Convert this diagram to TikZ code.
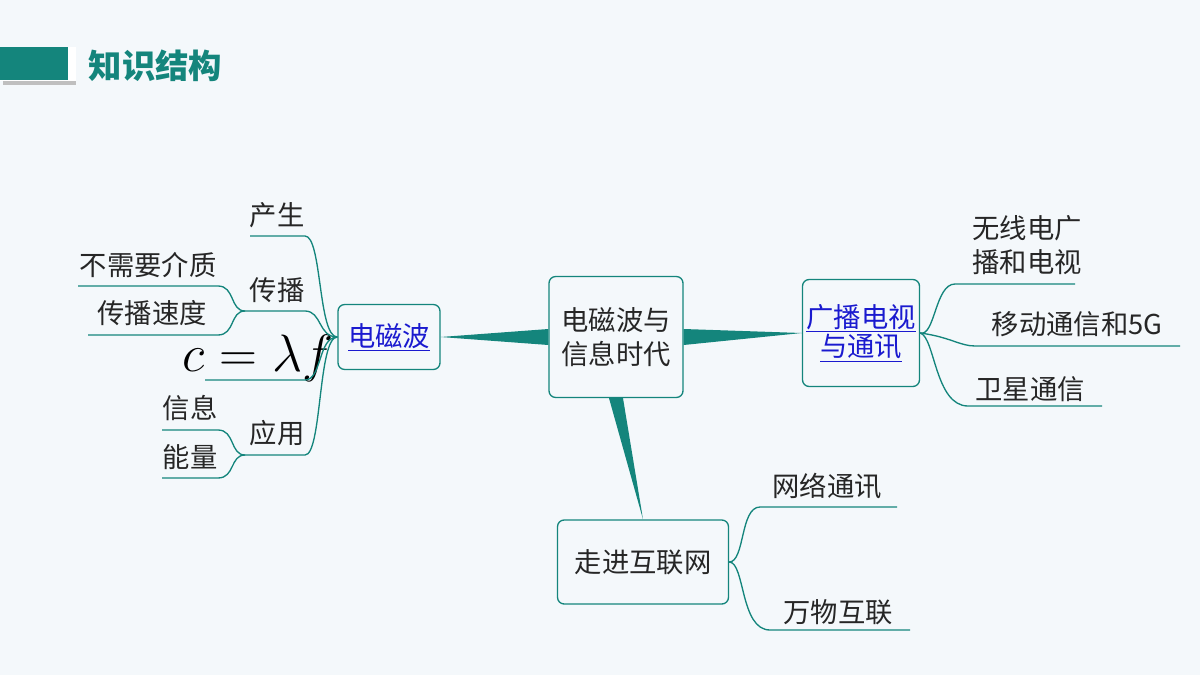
\documentclass[tikz,border=0pt]{standalone}
\usepackage{fontspec}
\setmainfont{Noto Sans CJK SC}
\usepackage{graphicx}
\usetikzlibrary{calc}
\definecolor{tealc}{HTML}{14857C}
\definecolor{linkc}{HTML}{1A1ACF}
\definecolor{bgc}{HTML}{F4F8FB}
\tikzset{every picture/.style={line width=0.75pt}}
\tikzset{
  box/.style={draw=tealc,rounded corners=5pt,line width=1pt,fill=bgc,align=center,inner sep=0pt},
  txt/.style={text=black!85,font=\fontsize{20.5}{25}\selectfont,inner sep=0pt,align=left},
  br/.style={draw=tealc,line width=1pt},
  wedge/.style={fill=tealc,draw=none}
}
\begin{document}
\begin{tikzpicture}[x=0.75pt,y=0.75pt,yscale=-1,xscale=1]
\path[fill=bgc] (0,0) rectangle (1200,675);
%header
\fill[black!25] (3,51) rectangle (76,85);
\fill[white] (0,47) rectangle (76,81);
\fill[tealc] (0,47) rectangle (68,80);
\node[anchor=west,text=tealc,font=\fontsize{25}{28}\selectfont\bfseries] (title) at (84,66) {知识结构};

%main boxes
\node[box,minimum width=134*0.75pt,minimum height=121*0.75pt,txt] (center) at (616,337) {电磁波与\\信息时代};
\node[box,minimum width=102*0.75pt,minimum height=65*0.75pt,txt] (dcb) at (389,337) {\color{linkc}\underline{电磁波}};
\node[box,minimum width=117*0.75pt,minimum height=107*0.75pt,txt,align=center] (gb) at (861,333) {\color{linkc}\underline{广播电视}\\[-3pt]\color{linkc}\underline{与通讯}};
\node[box,minimum width=171*0.75pt,minimum height=84*0.75pt,txt] (hl) at (643,562) {走进互联网};

%wedges
\fill[wedge] ($(center.west)+(0,-8)$) -- (dcb.east) -- ($(center.west)+(0,8)$) -- cycle;
\fill[wedge] ($(center.east)+(0,-8)$) -- (gb.west) -- ($(center.east)+(0,8)$) -- cycle;
\fill[wedge] ($(center.south)+(-7,0)$) -- (hl.north) -- ($(center.south)+(7,0)$) -- cycle;

%left leaves
\node[txt] (cs) at (277,215) {产生};
\node[txt] (cb) at (277,290) {传播};
\node[txt,text=black] (cf) at (258,358) {\scalebox{1.9}{$c=\lambda f$}};
\node[txt] (yy) at (277,433) {应用};
\node[txt] (jz) at (148,265) {不需要介质};
\node[txt] (sd) at (152,313) {传播速度};
\node[txt] (xx) at (190,408) {信息};
\node[txt] (nl) at (190,457) {能量};
\coordinate (csR) at (305,236); \coordinate (csL) at (250,236);
\coordinate (cbR) at (305,311); \coordinate (cbL) at (245,311);
\coordinate (cfR) at (305,380); \coordinate (cfL) at (205,380);
\coordinate (yyR) at (305,455); \coordinate (yyL) at (245,455);
\foreach \r/\l in {csR/csL,cbR/cbL,cfR/cfL,yyR/yyL}
  \draw[br] (dcb.west) .. controls (318,337) and (322,0|-\r) .. (\r) -- (\l);
\draw[br] (cbL) .. controls (230,311) and (235,286) .. (218,286) -- (78,286);
\draw[br] (cbL) .. controls (230,311) and (235,335) .. (218,335) -- (88,335);
\draw[br] (yyL) .. controls (230,455) and (235,430) .. (218,430) -- (162,430);
\draw[br] (yyL) .. controls (230,455) and (235,478) .. (218,478) -- (162,478);

%right leaves
\node[txt] (wx) at (1027,245) {无线电广\\播和电视};
\node[txt] (yd) at (1077,324) {移动通信和5G};
\node[txt] (wt) at (1030,389) {卫星通信};
\draw[br] (gb.east) .. controls (935,337) and (935,284) .. (955,284) -- (1075,284);
\draw[br] (gb.east) .. controls (950,337) and (960,346) .. (975,346) -- (1180,346);
\draw[br] (gb.east) .. controls (935,337) and (935,406) .. (968,406) -- (1102,406);

%bottom leaves
\node[txt] (wl) at (827,486) {网络通讯};
\node[txt] (wu) at (838,612) {万物互联};
\draw[br] (hl.east) .. controls (745,562) and (740,507) .. (760,507) -- (897,507);
\draw[br] (hl.east) .. controls (745,562) and (740,630) .. (770,630) -- (910,630);
\end{tikzpicture}
\end{document}
